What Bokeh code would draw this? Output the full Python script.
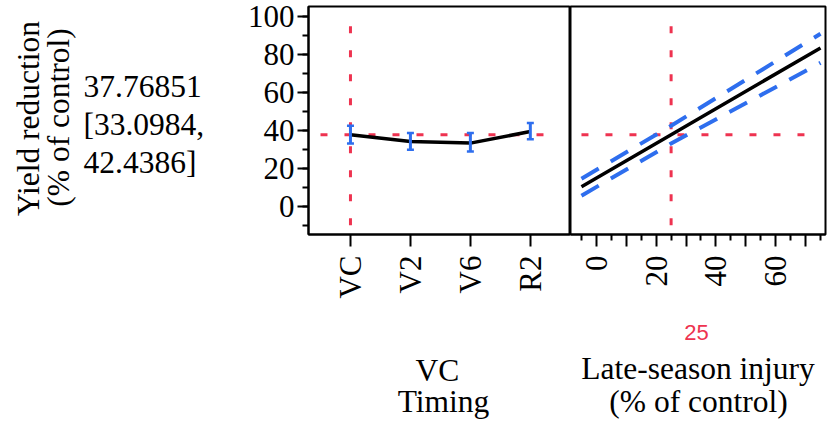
import math
from bokeh.plotting import figure
from bokeh.layouts import row, column
from bokeh.models import FixedTicker, Range1d
from bokeh.embed import file_html
from bokeh.resources import INLINE
from bokeh.core.properties import value

# ---- data ----
timing = ["VC", "V2", "V6", "R2"]
timing_pred = [37.77, 34.2, 33.3, 39.4]
timing_lower = [33.10, 29.8, 28.9, 35.4]
timing_upper = [42.44, 38.6, 38.6, 43.9]

injury_x = [-5, 25, 75]
injury_pred = [10.2, 37.77, 83.6]
injury_lower = [5.5, 33.10, 75.7]
injury_upper = [14.5, 42.44, 91.1]

current_timing = "VC"
current_injury = 25
response_text = ["37.76851", "[33.0984,", "42.4386]"]
y_title = ["Yield reduction", "(% of control)"]
timing_title = ["VC", "Timing"]
injury_title = ["25", "Late-season injury", "(% of control)"]

y_major = [0, 20, 40, 60, 80, 100]
y_minor = [-10, 0, 10, 20, 30, 40, 50, 60, 70, 80, 90, 100]
x_major = [0, 10, 20, 30, 40, 50, 60, 70]
x_labeled = [0, 20, 40, 60]
x_minor = [-5, 5, 15, 25, 35, 45, 55, 65, 75]

# ---- style ----
SERIF = "Liberation Serif"
SANS = "Liberation Sans"
RED = "#EE3350"
BLUE = "#2E6EEE"
FS_T = "31.5px"   # titles / readouts
FS_K = "31px"     # tick labels

W, H = 830, 428
TEXT_W = 230          # left text column
FRAME_TOP = 6
FRAME_BOTTOM = 234
PANEL_H = 310         # panels' figure height
LEFT_FRAME_L = 308
SPLIT = 570
RIGHT_FRAME_R = 825

y_range = Range1d(-15, 105.5)


def blank_fig(width, height, xr, yr):
    f = figure(width=width, height=height, x_range=Range1d(*xr), y_range=Range1d(*yr),
               min_border=0, x_axis_location=None, y_axis_location=None,
               output_backend="svg", toolbar_location=None)
    f.outline_line_color = None
    f.grid.visible = False
    f.background_fill_color = "white"
    f.border_fill_color = "white"
    return f


def style_axis(ax, size):
    ax.axis_line_color = "black"
    ax.axis_line_width = 2
    ax.major_tick_line_color = "black"
    ax.major_tick_line_width = 2
    ax.minor_tick_line_color = "black"
    ax.minor_tick_line_width = 2
    ax.major_tick_in = 0
    ax.minor_tick_in = 0
    ax.major_label_text_font = SERIF
    ax.major_label_text_font_size = size
    ax.major_label_text_color = "black"


def txt(f, xs, ys, texts, align="left", font=SERIF, size=FS_T, color="black", angle=0.0):
    # ys are canvas y (from top) of the text's vertical middle
    f.text(x=xs, y=[H - y for y in ys], text=texts, text_align=align, text_baseline="middle",
           text_font=value(font), text_font_size=value(size), text_color=color, angle=angle)


# ---- left text column ----
tf = blank_fig(TEXT_W, H, (0, TEXT_W), (0, H))
txt(tf, [28], [118], y_title[:1], align="center", angle=math.pi / 2)
txt(tf, [58], [117], y_title[1:], align="center", angle=math.pi / 2)
txt(tf, [83, 83, 83], [85.5, 123.5, 161.5], response_text)

# ---- left panel (Timing) ----
xs = list(range(len(timing)))
left = figure(width=SPLIT - TEXT_W, height=PANEL_H, x_range=Range1d(-0.70, 3.67), y_range=y_range,
              min_border_left=LEFT_FRAME_L - TEXT_W, min_border_right=0, min_border_top=FRAME_TOP,
              min_border_bottom=PANEL_H - FRAME_BOTTOM, output_backend="svg", toolbar_location=None)
left.outline_line_color = "black"
left.outline_line_width = 2
left.grid.visible = False
left.background_fill_color = "white"
left.border_fill_color = "white"

ya = left.yaxis[0]
style_axis(ya, FS_K)
ya.ticker = FixedTicker(ticks=y_major, minor_ticks=y_minor)
ya.major_tick_out = 11
ya.minor_tick_out = 6
ya.major_label_standoff = 3

xa = left.xaxis[0]
style_axis(xa, FS_K)
xa.ticker = FixedTicker(ticks=xs, minor_ticks=[])
xa.major_label_overrides = {i: t for i, t in enumerate(timing)}
xa.major_tick_out = 12
xa.major_label_standoff = 9
xa.major_label_orientation = math.pi / 2

cur_i = timing.index(current_timing)
cur_y = timing_pred[cur_i]
left.segment(x0=[cur_i], y0=[95], x1=[cur_i], y1=[-10.5], line_color=RED, line_width=3, line_dash="7 17")
left.segment(x0=[-0.5], y0=[cur_y], x1=[3.5], y1=[cur_y], line_color=RED, line_width=3, line_dash="7 17")
left.line(xs, timing_pred, line_color="black", line_width=3.5)
left.segment(x0=xs, y0=timing_lower, x1=xs, y1=timing_upper, line_color=BLUE, line_width=3)
left.scatter(xs, timing_lower, marker="dash", size=7, line_color=BLUE, line_width=2.5)
left.scatter(xs, timing_upper, marker="dash", size=7, line_color=BLUE, line_width=2.5)

# ---- right panel (Late-season injury) ----
RIGHT_FIG_W = W - SPLIT
right = figure(width=RIGHT_FIG_W, height=PANEL_H, x_range=Range1d(-8.67, 76.67), y_range=y_range,
               min_border_left=0, min_border_right=W - RIGHT_FRAME_R, min_border_top=FRAME_TOP,
               min_border_bottom=PANEL_H - FRAME_BOTTOM, y_axis_location=None,
               output_backend="svg", toolbar_location=None)
right.outline_line_color = "black"
right.outline_line_width = 2
right.grid.visible = False
right.background_fill_color = "white"
right.border_fill_color = "white"

xb = right.xaxis[0]
style_axis(xb, FS_K)
xb.ticker = FixedTicker(ticks=x_major, minor_ticks=x_minor)
xb.major_label_overrides = {t: (str(t) if t in x_labeled else "") for t in x_major}
xb.major_tick_out = 12
xb.minor_tick_out = 6
xb.major_label_standoff = 9
xb.major_label_orientation = math.pi / 2

right.segment(x0=[current_injury], y0=[95], x1=[current_injury], y1=[-10.5],
              line_color=RED, line_width=3, line_dash="7 17")
right.segment(x0=[injury_x[0]], y0=[cur_y], x1=[injury_x[-1]], y1=[cur_y],
              line_color=RED, line_width=3, line_dash="7 17")
right.line(injury_x, injury_upper, line_color=BLUE, line_width=4, line_dash="20 14")
right.line(injury_x, injury_lower, line_color=BLUE, line_width=4, line_dash="20 14")
right.line(injury_x, injury_pred, line_color="black", line_width=3.5)

# ---- bottom text strip ----
BOT_H = H - PANEL_H
bf = blank_fig(W - TEXT_W, BOT_H, (TEXT_W, W), (0, BOT_H))
txt(bf, [437], [369.5], timing_title[:1], align="center")
txt(bf, [443], [401], timing_title[1:], align="center")
txt(bf, [696], [331.5], injury_title[:1], align="center", font=SANS, size="22px", color=RED)
txt(bf, [697.5, 698], [368, 401], injury_title[1:], align="center")

layout = row(tf, column(row(left, right, spacing=0), bf, spacing=0), spacing=0)
open("out.html", "w").write(file_html(layout, INLINE))
